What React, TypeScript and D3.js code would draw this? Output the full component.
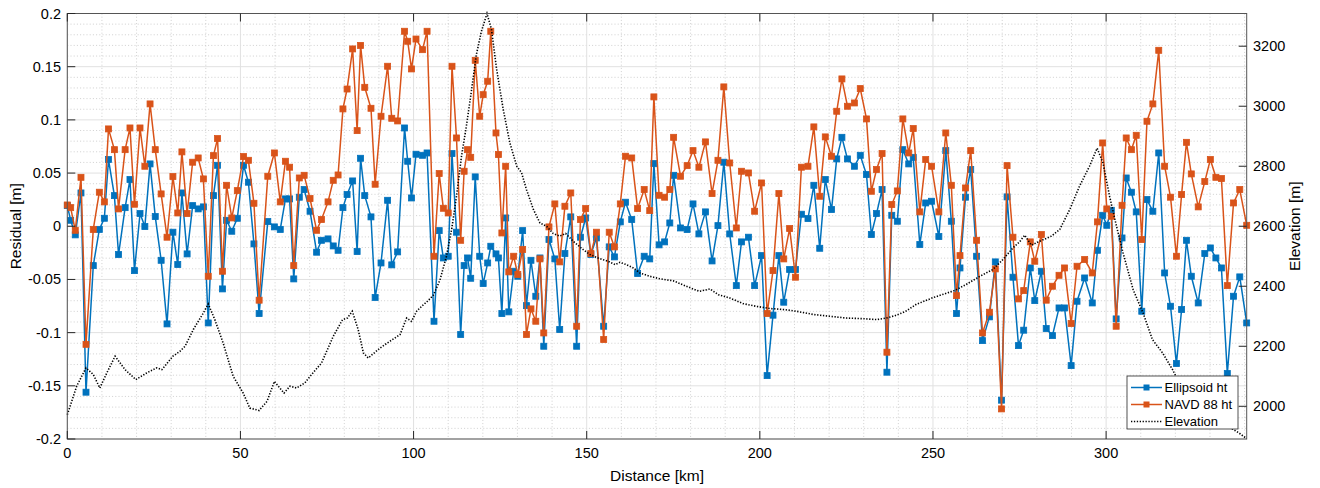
import React from 'react';
import * as d3 from 'd3';

const distanceKm = [
  0.0, 0.97, 2.3, 3.95, 5.4, 7.5, 9.25, 10.7, 11.9, 13.6, 14.8, 16.7, 18.1, 19.4, 21.0, 22.4, 23.9, 25.4, 27.1, 28.8,
  30.5, 31.9, 33.1, 34.6, 36.2, 37.8, 39.3, 40.7, 42.2, 43.4, 44.8, 46.0, 47.5, 49.1, 50.9, 52.3, 53.9, 55.4, 57.9, 59.8,
  61.5, 63.0, 64.2, 65.4, 67.0, 68.4, 70.1, 72.0, 73.4, 75.3, 76.8, 78.2, 79.6, 80.8, 82.4, 83.7, 84.7, 85.9, 87.7, 88.9,
  90.6, 92.5, 93.7, 95.4, 97.4, 98.3, 99.4, 100.7, 102.6, 103.9, 105.9, 107.4, 108.6, 110.0, 111.1, 112.4, 113.6, 114.6, 115.6, 116.5,
  117.8, 119.1, 120.1, 121.4, 122.3, 123.8, 124.5, 125.5, 126.6, 127.5, 128.9, 130.1, 131.5, 132.6, 133.9, 135.3, 136.5, 137.6, 139.1, 140.8,
  142.2, 143.7, 145.4, 147.1, 148.2, 149.7, 151.2, 152.8, 154.9, 156.5, 158.0, 159.7, 161.2, 163.0, 164.7, 166.6, 168.2, 169.4, 170.9, 172.5,
  174.0, 175.1, 177.1, 179.0, 180.7, 182.4, 184.3, 186.2, 187.9, 189.6, 191.3, 193.2, 194.7, 196.7, 198.5, 200.5, 202.1, 203.8, 205.5, 206.9,
  208.6, 210.3, 212.0, 213.9, 215.6, 217.3, 218.9, 220.7, 222.2, 223.7, 225.3, 227.3, 229.0, 230.8, 232.2, 233.7, 235.3, 236.7, 238.1, 239.7,
  241.3, 243.0, 244.3, 246.2, 247.9, 249.6, 251.7, 253.7, 255.3, 256.8, 257.8, 259.4, 260.9, 262.6, 264.3, 266.3, 268.0, 269.8, 271.4, 273.1,
  274.7, 276.2, 278.1, 279.4, 281.3, 282.7, 284.5, 286.4, 288.0, 289.9, 291.6, 293.8, 296.0, 297.5, 299.0, 300.2, 301.5, 302.9, 304.6, 305.8,
  307.3, 308.7, 310.3, 311.8, 313.5, 315.2, 316.9, 318.6, 320.3, 321.8, 323.2, 324.6, 326.6, 328.5, 330.1, 331.7, 333.3, 335.0, 336.8, 338.6,
  340.6,
];

const ellipsoidHt = [
  0.0194, 0.0056, -0.0081, 0.0313, -0.156, -0.037, -0.003, 0.0075, 0.0627, 0.0288, -0.0266, 0.0175, 0.0439, -0.0417, 0.0119, -0.0003, 0.0586, 0.0091, -0.032, -0.0918,
  -0.0056, -0.036, 0.0313, -0.026, 0.0194, 0.0163, 0.0182, -0.0909, 0.0288, 0.0573, -0.0589, 0.0056, -0.0047, 0.0075, 0.0573, 0.0414, -0.0166, -0.0821, 0.0044, -0.0006,
  -0.003, 0.0257, 0.0257, -0.0495, 0.0273, 0.0345, 0.0141, -0.0244, -0.0132, -0.0119, -0.0185, -0.0226, 0.0175, 0.0298, 0.0426, -0.0238, 0.0639, 0.0288, 0.0088, -0.067,
  -0.0345, 0.0244, -0.0363, -0.0241, 0.0924, 0.0611, 0.0266, 0.0677, 0.0667, 0.0689, -0.0893, -0.0041, -0.0298, -0.0282, 0.0683, -0.0056, -0.1018, -0.037, -0.0298, -0.0489,
  0.0464, -0.0282, -0.0539, -0.0345, -0.0188, -0.026, -0.0298, -0.0821, 0.0078, -0.0805, -0.0423, -0.047, -0.0041, -0.0746, -0.032, -0.0658, -0.0298, -0.1128, -0.0125, -0.0307,
  -0.0971, -0.0257, 0.0088, -0.1128, -0.0103, 0.0078, -0.0266, -0.011, -0.094, -0.0194, -0.0288, 0.0041, 0.0226, 0.0063, -0.0445, -0.0282, -0.0307, 0.0589, -0.0175, -0.0147,
  0.0031, 0.0479, -0.0016, -0.0031, 0.021, -0.0072, 0.0135, -0.0326, 0.0006, 0.0602, -0.0072, -0.0558, -0.0147, -0.0103, -0.0558, -0.0276, -0.1404, -0.0836, -0.0276, -0.0714,
  -0.0407, -0.0407, 0.0113, 0.0072, 0.0385, -0.0207, 0.0439, 0.0157, 0.0633, 0.0836, 0.0633, 0.0564, 0.0667, 0.0486, -0.0078, 0.0119, 0.0345, -0.1372, 0.0103, 0.0047,
  0.072, 0.0586, 0.0648, -0.0172, 0.0219, 0.0235, -0.0097, 0.0711, 0.0047, -0.0821, -0.0392, 0.0273, 0.0533, -0.0282, -0.1075, -0.0852, -0.0335, -0.1635, 0.0276, -0.0479,
  -0.1122, -0.0977, -0.0392, -0.0699, -0.0423, -0.0962, -0.1028, -0.0768, -0.0768, -0.131, -0.0705, -0.0486, -0.0721, -0.0226, 0.0103, 0.0009, 0.015, -0.0871, -0.011, 0.0454,
  0.032, 0.0135, -0.0799, 0.0251, 0.0141, 0.0689, -0.0439, -0.0752, -0.1291, -0.0783, -0.0132, -0.047, -0.0721, -0.0257, -0.0204, -0.0298, -0.0392, -0.1385, -0.0658, -0.0476,
  -0.0909,
];

const navd88Ht = [
  0.020, 0.0175, -0.0038, 0.046, -0.111, -0.003, 0.032, 0.0229, 0.0915, 0.072, 0.0163, 0.072, 0.0924, 0.0207, 0.0924, 0.0564, 0.115, 0.072, 0.0304, -0.0103,
  0.0467, 0.0125, 0.0699, 0.0119, 0.0602, 0.0642, 0.0445, -0.047, 0.0664, 0.0824, -0.0423, 0.0385, 0.0078, 0.0335, 0.0655, 0.062, 0.0216, -0.0695, 0.047, 0.0689,
  0.0229, 0.0611, 0.0555, -0.037, 0.0454, 0.0479, 0.026, -0.0038, 0.0063, 0.0229, 0.0432, 0.0482, 0.1103, 0.129, 0.1667, 0.0899, 0.170, 0.1306, 0.1109, 0.0395,
  0.1034, 0.1504, 0.1015, 0.099, 0.1833, 0.1739, 0.1479, 0.176, 0.166, 0.1833, -0.0282, 0.0495, 0.0169, 0.0125, 0.1504, 0.083, -0.0132, 0.0517, 0.072, 0.0648,
  0.156, 0.1034, 0.1237, 0.1363, 0.1833, 0.0877, 0.0674, -0.0063, 0.0564, -0.0429, -0.0282, -0.0454, -0.0219, -0.1018, -0.0777, -0.0893, -0.0307, -0.1003, -0.0006, 0.021,
  -0.0335, 0.0188, 0.0313, -0.094, 0.0063, 0.0166, -0.0257, -0.0056, -0.1065, -0.0056, -0.0194, 0.021, 0.0658, 0.0642, 0.0166, 0.0345, 0.0147, 0.1216, 0.0291, 0.0273,
  0.0345, 0.0836, 0.047, 0.057, 0.0711, 0.0555, 0.0793, 0.0307, 0.062, 0.131, 0.0595, -0.0016, 0.0517, 0.0501, 0.0141, 0.0407, -0.0821, -0.0417, 0.0307, -0.0307,
  -0.0022, -0.0479, 0.0555, 0.0564, 0.0934, 0.0282, 0.084, 0.0658, 0.1081, 0.1385, 0.1128, 0.1159, 0.1294, 0.1009, 0.0329, 0.0533, 0.0683, -0.1184, 0.0204, 0.0332,
  0.1009, 0.0689, 0.0918, 0.0135, 0.0627, 0.0564, 0.0135, 0.0877, 0.0385, -0.0652, -0.0276, 0.036, 0.0711, -0.0132, -0.1003, -0.0808, -0.0401, -0.1717, 0.057, -0.0103,
  -0.0683, -0.0605, -0.0147, -0.0329, -0.0078, -0.0695, -0.0564, -0.0461, -0.0392, -0.0915, -0.0376, -0.0313, -0.0439, 0.0041, 0.0783, 0.0163, 0.0094, -0.094, 0.0197, 0.083,
  0.072, 0.0855, -0.0125, 0.0987, 0.115, 0.1654, 0.0564, 0.0273, -0.0282, 0.0298, 0.0789, 0.0492, 0.0182, 0.042, 0.0627, 0.046, 0.0448, -0.0558, 0.0219, 0.0345,
  0.0009,
];

const elevDistKm = [
  0, 2.7, 5.4, 7.5, 9.4, 11.4, 13.8, 16.7, 19.8, 22.9, 25.8, 27.3, 30.5, 32.5, 34.0, 36.4, 39.3, 40.7, 42.6, 45.0,
  47.9, 50.8, 52.7, 55.4, 57.7, 59.8, 62.6, 64.3, 66.2, 68.6, 70.1, 73.4, 76.8, 79.5, 80.9, 82.3, 84.0, 85.5, 86.9, 90.3,
  93.2, 96.1, 98.0, 99.4, 100.9, 102.5, 104.0, 105.7, 107.6, 109.5, 111.0, 112.4, 113.8, 115.2, 116.7, 118.1, 119.6, 121.2, 122.5, 124.0,
  125.9, 127.8, 129.8, 131.2, 132.6, 134.6, 136.5, 138.4, 140.3, 142.2, 143.9, 146.1, 149.0, 150.9, 153.3, 156.2, 158.2, 159.6, 161.5, 163.5,
  165.4, 168.3, 171.1, 175.0, 178.8, 182.5, 185.6, 188.0, 191.3, 195.2, 199.0, 202.9, 207.2, 210.5, 215.4, 220.2, 225.0, 229.8, 233.7, 236.5,
  239.0, 241.9, 245.2, 250.0, 256.3, 259.6, 263.5, 267.3, 270.2, 273.1, 275.0, 276.5, 278.4, 280.8, 284.2, 286.6, 289.5, 292.3, 295.2, 297.4,
  299.1, 301.0, 303.0, 304.9, 307.8, 310.7, 313.4, 316.3, 319.2, 321.1, 324.0, 328.8, 333.6, 338.4, 340.6,
];

const elevationM = [
  1972, 2067, 2128, 2106, 2061, 2111, 2167, 2122, 2089, 2111, 2128, 2122, 2167, 2183, 2200, 2256, 2311, 2341, 2289, 2211,
  2100, 2044, 1994, 1986, 2017, 2083, 2044, 2067, 2061, 2078, 2100, 2144, 2233, 2289, 2294, 2317, 2256, 2178, 2161, 2194,
  2217, 2239, 2294, 2283, 2317, 2335, 2350, 2370, 2420, 2500, 2590, 2700, 2830, 2930, 3050, 3170, 3250, 3309, 3256, 3122,
  2989, 2878, 2800, 2778, 2722, 2656, 2611, 2600, 2576, 2567, 2576, 2550, 2522, 2506, 2494, 2483, 2472, 2480, 2472, 2461,
  2444, 2433, 2425, 2418, 2400, 2383, 2391, 2372, 2361, 2342, 2333, 2326, 2322, 2317, 2306, 2300, 2294, 2292, 2289, 2294,
  2302, 2315, 2340, 2362, 2386, 2406, 2433, 2456, 2489, 2528, 2548, 2570, 2537, 2550, 2567, 2589, 2656, 2733, 2800, 2860,
  2811, 2700, 2600, 2511, 2389, 2310, 2222, 2178, 2122, 2078, 2022, 1978, 1944, 1911, 1892,
];

const xTicks = [0, 50, 100, 150, 200, 250, 300];
const yTicksLeft = [-0.2, -0.15, -0.1, -0.05, 0, 0.05, 0.1, 0.15, 0.2];
const yTickLabelsLeft = ['-0.2', '-0.15', '-0.1', '-0.05', '0', '0.05', '0.1', '0.15', '0.2'];
const yTicksRight = [2000, 2200, 2400, 2600, 2800, 3000, 3200];
const legendLabels = ['Ellipsoid ht', 'NAVD 88 ht', 'Elevation'];

const BLUE = '#0072BD';
const ORANGE = '#D95319';
const FONT = '"Liberation Sans", Arial, Helvetica, sans-serif';

export default function App() {
  const W = 1320, H = 488;
  const L = 67.3, R = 1246.7, T = 13.5, B = 439;
  const x = d3.scaleLinear().domain([0, 340.6]).range([L, R]);
  const y = d3.scaleLinear().domain([-0.2, 0.2]).range([B, T]);
  const y2 = d3.scaleLinear().domain([1891, 3309]).range([B, T]);

  const minorX = d3.range(10, 341, 10).filter((v) => v % 50 !== 0);
  const minorY = d3.range(-19, 20).map((v) => v / 100).filter((v) => Math.abs(Math.round(v * 100)) % 5 !== 0);

  const lineGen = d3.line<number>().x((_, i) => x(distanceKm[i]));
  const blueD = d3.line<number>().x((_, i) => x(distanceKm[i])).y((d) => y(d))(ellipsoidHt) || '';
  const orangeD = d3.line<number>().x((_, i) => x(distanceKm[i])).y((d) => y(d))(navd88Ht) || '';
  const elevD = d3.line<number>().x((_, i) => x(elevDistKm[i])).y((d) => y2(d))(elevationM) || '';
  void lineGen;

  const ms = 6;
  const axisColor = '#262626';
  const tickFs = 14.5;

  return (
    <div style={{ position: 'absolute', left: 0, top: 0 }}>
      <svg width={W} height={H} style={{ display: 'block', background: '#fff' }} fontFamily={FONT}>
        <rect x={0} y={0} width={W} height={H} fill="#fff" />
        {/* minor grid */}
        {minorX.map((v) => (
          <line key={'mx' + v} x1={x(v)} x2={x(v)} y1={T} y2={B} stroke="#c4c4c4" strokeWidth={0.8} strokeDasharray="1 2.2" />
        ))}
        {minorY.map((v) => (
          <line key={'my' + v} x1={L} x2={R} y1={y(v)} y2={y(v)} stroke="#c4c4c4" strokeWidth={0.8} strokeDasharray="1 2.2" />
        ))}
        {/* major grid */}
        {xTicks.map((v) => (
          <line key={'gx' + v} x1={x(v)} x2={x(v)} y1={T} y2={B} stroke="#e1e1e1" strokeWidth={1} />
        ))}
        {yTicksLeft.map((v) => (
          <line key={'gy' + v} x1={L} x2={R} y1={y(v)} y2={y(v)} stroke="#e1e1e1" strokeWidth={1} />
        ))}

        {/* series */}
        <path d={blueD} fill="none" stroke={BLUE} strokeWidth={1.5} />
        {ellipsoidHt.map((v, i) => (
          <rect key={'b' + i} x={x(distanceKm[i]) - ms / 2} y={y(v) - ms / 2} width={ms} height={ms} fill={BLUE} stroke={BLUE} strokeWidth={0.8} />
        ))}
        <path d={orangeD} fill="none" stroke={ORANGE} strokeWidth={1.5} />
        {navd88Ht.map((v, i) => (
          <rect key={'o' + i} x={x(distanceKm[i]) - ms / 2} y={y(v) - ms / 2} width={ms} height={ms} fill={ORANGE} stroke={ORANGE} strokeWidth={0.8} />
        ))}
        <path d={elevD} fill="none" stroke="#000" strokeWidth={1.6} strokeDasharray="1.3 1.6" />

        {/* box */}
        <rect x={L} y={T} width={R - L} height={B - T} fill="none" stroke="#555" strokeWidth={1} />

        {/* ticks */}
        {xTicks.map((v) => (
          <g key={'xt' + v}>
            <line x1={x(v)} x2={x(v)} y1={B} y2={B - 8} stroke={axisColor} strokeWidth={1} />
            <line x1={x(v)} x2={x(v)} y1={T} y2={T + 8} stroke={axisColor} strokeWidth={1} />
            <text x={x(v)} y={458} textAnchor="middle" fontSize={tickFs} fill="#000">{v}</text>
          </g>
        ))}
        {yTicksLeft.map((v, i) => (
          <g key={'yt' + v}>
            <line x1={L} x2={L + 8} y1={y(v)} y2={y(v)} stroke={axisColor} strokeWidth={1} />
            <text x={61} y={y(v) + 5} textAnchor="end" fontSize={tickFs} fill="#000">{yTickLabelsLeft[i]}</text>
          </g>
        ))}
        {yTicksRight.map((v) => (
          <g key={'yr' + v}>
            <line x1={R - 8} x2={R} y1={y2(v)} y2={y2(v)} stroke={axisColor} strokeWidth={1} />
            <text x={1253} y={y2(v) + 5} textAnchor="start" fontSize={tickFs} fill="#000">{v}</text>
          </g>
        ))}

        {/* axis labels */}
        <text x={657} y={481} textAnchor="middle" fontSize={15.5} fill="#000">Distance [km]</text>
        <text transform={`translate(21,${(T + B) / 2}) rotate(-90)`} textAnchor="middle" fontSize={15.5} fill="#000">Residual [m]</text>
        <text transform={`translate(1300,${(T + B) / 2}) rotate(-90)`} textAnchor="middle" fontSize={15.5} fill="#000">Elevation [m]</text>

        {/* legend */}
        <g>
          <rect x={1127} y={376} width={111} height={53} fill="#fff" stroke="#262626" strokeWidth={0.8} />
          {legendLabels.map((lab, i) => {
            const ly = 387.5 + i * 17;
            return (
              <g key={lab}>
                {i === 0 && (
                  <g>
                    <line x1={1131} x2={1162} y1={ly} y2={ly} stroke={BLUE} strokeWidth={1.5} />
                    <rect x={1146.5 - ms / 2} y={ly - ms / 2} width={ms} height={ms} fill={BLUE} />
                  </g>
                )}
                {i === 1 && (
                  <g>
                    <line x1={1131} x2={1162} y1={ly} y2={ly} stroke={ORANGE} strokeWidth={1.5} />
                    <rect x={1146.5 - ms / 2} y={ly - ms / 2} width={ms} height={ms} fill={ORANGE} />
                  </g>
                )}
                {i === 2 && (
                  <line x1={1131} x2={1162} y1={ly} y2={ly} stroke="#000" strokeWidth={1.4} strokeDasharray="1.3 1.6" />
                )}
                <text x={1164.5} y={ly + 4.5} fontSize={13} fill="#000">{lab}</text>
              </g>
            );
          })}
        </g>
      </svg>
    </div>
  );
}
